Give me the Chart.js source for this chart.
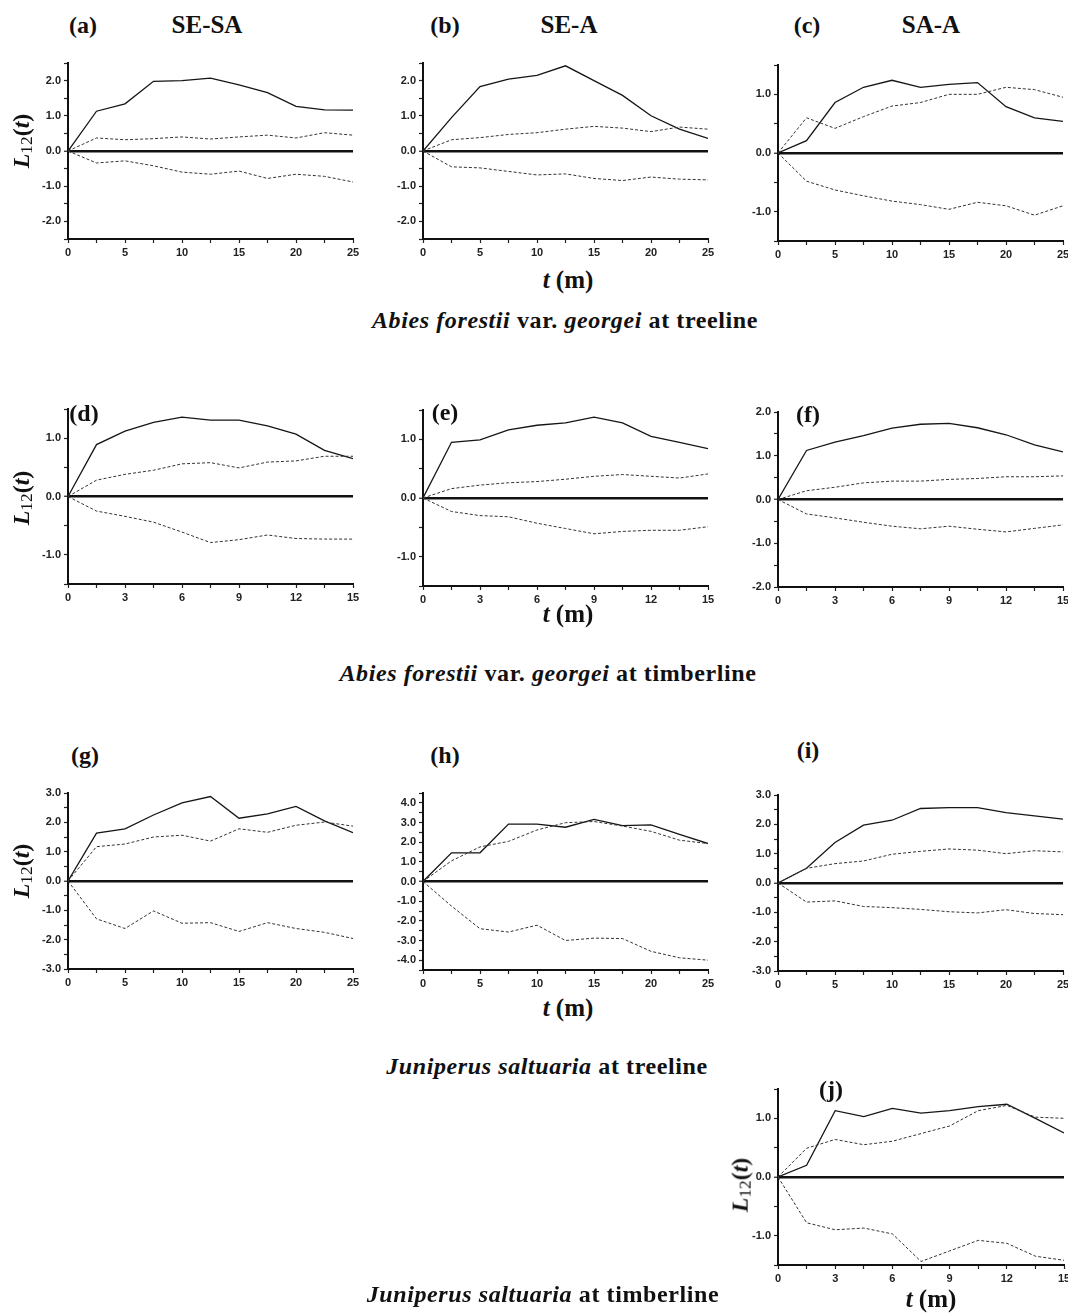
<!DOCTYPE html>
<html>
<head>
<meta charset="utf-8">
<script src="https://cdn.jsdelivr.net/npm/chart.js@4.4.1/dist/chart.umd.min.js"></script>
<style>
html, body { margin: 0; padding: 0; background: #fff; }
body { width: 1068px; height: 1316px; position: relative; overflow: hidden; }
canvas { position: absolute; }
.txt { position: absolute; white-space: nowrap; line-height: 1; font-family: 'Liberation Serif', 'Times New Roman', serif; font-weight: bold; color: #111; }
.c { transform: translateX(-50%); }
.ylab { transform: translate(-50%, -50%) rotate(-90deg); font-size: 24px; }
.ylab sub { font-weight: normal; font-size: 0.72em; vertical-align: -0.2em; }
.let { font-size: 24px; }
.hd { font-size: 25px; }
.tm { font-size: 25px; }
.cap { font-size: 24px; letter-spacing: 0.6px; }
</style>
</head>
<body>

<!-- panel headings -->
<div class="txt let c" style="left:83px;top:13px">(a)</div>
<div class="txt hd c" style="left:207px;top:12px">SE-SA</div>
<div class="txt let c" style="left:445px;top:13px">(b)</div>
<div class="txt hd c" style="left:569px;top:12px">SE-A</div>
<div class="txt let c" style="left:807px;top:13px">(c)</div>
<div class="txt hd c" style="left:931px;top:12px">SA-A</div>

<div class="txt let c" style="left:84px;top:401px">(d)</div>
<div class="txt let c" style="left:445px;top:400px">(e)</div>
<div class="txt let c" style="left:808px;top:402px">(f)</div>
<div class="txt let c" style="left:85px;top:743px">(g)</div>
<div class="txt let c" style="left:445px;top:743px">(h)</div>
<div class="txt let c" style="left:808px;top:738px">(i)</div>
<div class="txt let c" style="left:831px;top:1077px">(j)</div>

<div class="txt tm c" style="left:568px;top:267px"><i>t</i> (m)</div>
<div class="txt cap c" style="left:565px;top:308px"><i>Abies forestii</i> var. <i>georgei</i> at treeline</div>

<div class="txt tm c" style="left:568px;top:601px"><i>t</i> (m)</div>
<div class="txt cap c" style="left:548px;top:661px"><i>Abies forestii</i> var. <i>georgei</i> at timberline</div>

<div class="txt tm c" style="left:568px;top:995px"><i>t</i> (m)</div>
<div class="txt cap c" style="left:547px;top:1054px"><i>Juniperus saltuaria</i> at treeline</div>

<div class="txt tm c" style="left:931px;top:1286px"><i>t</i> (m)</div>
<div class="txt cap c" style="left:543px;top:1282px"><i>Juniperus saltuaria</i> at timberline</div>

<div class="txt ylab" style="left:22px;top:141px"><i>L</i><sub>12</sub>(<i>t</i>)</div>
<div class="txt ylab" style="left:22px;top:498px"><i>L</i><sub>12</sub>(<i>t</i>)</div>
<div class="txt ylab" style="left:22px;top:871px"><i>L</i><sub>12</sub>(<i>t</i>)</div>
<div class="txt ylab" style="left:741px;top:1185px"><i>L</i><sub>12</sub>(<i>t</i>)</div>

<script>
// distances t (m)
const t25 = [0, 2.5, 5, 7.5, 10, 12.5, 15, 17.5, 20, 22.5, 25];
const t15 = [0, 1.5, 3, 4.5, 6, 7.5, 9, 10.5, 12, 13.5, 15];

// (a) SE-SA treeline
const aObs = [0, 1.13, 1.34, 1.98, 2.0, 2.07, 1.88, 1.66, 1.27, 1.17, 1.16];
const aUp  = [0, 0.37, 0.32, 0.35, 0.4, 0.34, 0.4, 0.45, 0.37, 0.52, 0.45];
const aLo  = [0, -0.34, -0.28, -0.42, -0.6, -0.66, -0.57, -0.78, -0.66, -0.72, -0.88];
// (b) SE-A treeline
const bObs = [0, 0.95, 1.83, 2.04, 2.15, 2.42, 2.0, 1.58, 1.0, 0.62, 0.36];
const bUp  = [0, 0.32, 0.38, 0.47, 0.52, 0.62, 0.7, 0.65, 0.55, 0.68, 0.62];
const bLo  = [0, -0.45, -0.48, -0.58, -0.68, -0.65, -0.78, -0.84, -0.74, -0.8, -0.82];
// (c) SA-A treeline
const cObs = [0, 0.21, 0.86, 1.12, 1.24, 1.12, 1.17, 1.2, 0.79, 0.6, 0.54];
const cUp  = [0, 0.6, 0.42, 0.62, 0.8, 0.86, 1.0, 1.0, 1.12, 1.08, 0.95];
const cLo  = [0, -0.48, -0.63, -0.73, -0.82, -0.88, -0.96, -0.84, -0.9, -1.06, -0.9];
// (d) timberline
const dObs = [0, 0.89, 1.12, 1.27, 1.36, 1.31, 1.31, 1.21, 1.07, 0.79, 0.65];
const dUp  = [0, 0.28, 0.38, 0.45, 0.56, 0.58, 0.49, 0.59, 0.61, 0.69, 0.69];
const dLo  = [0, -0.25, -0.34, -0.44, -0.61, -0.79, -0.74, -0.66, -0.72, -0.73, -0.73];
// (e)
const eObs = [0, 0.95, 0.99, 1.16, 1.24, 1.28, 1.38, 1.28, 1.05, 0.95, 0.84];
const eUp  = [0, 0.16, 0.22, 0.26, 0.28, 0.32, 0.37, 0.4, 0.37, 0.34, 0.41];
const eLo  = [0, -0.23, -0.3, -0.32, -0.43, -0.52, -0.61, -0.57, -0.55, -0.55, -0.49];
// (f)
const fObs = [0, 1.12, 1.31, 1.46, 1.63, 1.72, 1.74, 1.64, 1.48, 1.25, 1.09];
const fUp  = [0, 0.2, 0.28, 0.38, 0.42, 0.42, 0.46, 0.48, 0.52, 0.52, 0.54];
const fLo  = [0, -0.33, -0.42, -0.52, -0.61, -0.67, -0.61, -0.68, -0.74, -0.66, -0.58];
// (g) Juniperus treeline
const gObs = [0, 1.63, 1.78, 2.25, 2.66, 2.88, 2.14, 2.29, 2.54, 2.05, 1.65];
const gUp  = [0, 1.17, 1.26, 1.5, 1.56, 1.36, 1.78, 1.66, 1.9, 2.01, 1.87];
const gLo  = [0, -1.29, -1.62, -1.02, -1.44, -1.42, -1.72, -1.42, -1.62, -1.75, -1.96];
// (h)
const hObs = [0, 1.46, 1.46, 2.92, 2.92, 2.76, 3.16, 2.84, 2.88, 2.4, 1.93];
const hUp  = [0, 1.05, 1.76, 2.04, 2.62, 2.99, 3.05, 2.82, 2.55, 2.1, 1.93];
const hLo  = [0, -1.25, -2.4, -2.57, -2.22, -3.0, -2.88, -2.9, -3.55, -3.88, -4.0];
// (i)
const iObs = [0, 0.5, 1.38, 1.97, 2.14, 2.54, 2.57, 2.57, 2.4, 2.29, 2.18];
const iUp  = [0, 0.5, 0.66, 0.75, 0.98, 1.08, 1.16, 1.12, 1.0, 1.1, 1.06];
const iLo  = [0, -0.65, -0.61, -0.8, -0.84, -0.9, -0.98, -1.02, -0.91, -1.04, -1.08];
// (j) Juniperus timberline
const jObs = [0, 0.2, 1.13, 1.03, 1.17, 1.09, 1.13, 1.2, 1.24, 1.0, 0.75];
const jUp  = [0, 0.49, 0.64, 0.55, 0.61, 0.74, 0.87, 1.13, 1.22, 1.02, 1.0];
const jLo  = [0, -0.78, -0.9, -0.87, -0.97, -1.44, -1.26, -1.08, -1.13, -1.35, -1.42];

// plot area in page pixels + axis ranges
const panels = [
  {l: 68,  t: 63,   r: 353,  b: 239,  ymin: -2.5, ymax: 2.5, ts: t25, obs: aObs, up: aUp, lo: aLo},
  {l: 423, t: 63,   r: 708,  b: 239,  ymin: -2.5, ymax: 2.5, ts: t25, obs: bObs, up: bUp, lo: bLo},
  {l: 778, t: 65,   r: 1063, b: 241,  ymin: -1.5, ymax: 1.5, ts: t25, obs: cObs, up: cUp, lo: cLo},
  {l: 68,  t: 409,  r: 353,  b: 584,  ymin: -1.5, ymax: 1.5, ts: t15, obs: dObs, up: dUp, lo: dLo},
  {l: 423, t: 410,  r: 708,  b: 586,  ymin: -1.5, ymax: 1.5, ts: t15, obs: eObs, up: eUp, lo: eLo},
  {l: 778, t: 412,  r: 1063, b: 587,  ymin: -2,   ymax: 2,   ts: t15, obs: fObs, up: fUp, lo: fLo},
  {l: 68,  t: 793,  r: 353,  b: 969,  ymin: -3,   ymax: 3,   ts: t25, obs: gObs, up: gUp, lo: gLo},
  {l: 423, t: 793,  r: 708,  b: 970,  ymin: -4.5, ymax: 4.5, ts: t25, obs: hObs, up: hUp, lo: hLo},
  {l: 778, t: 795,  r: 1063, b: 971,  ymin: -3,   ymax: 3,   ts: t25, obs: iObs, up: iUp, lo: iLo},
  {l: 778, t: 1089, r: 1064, b: 1265, ymin: -1.5, ymax: 1.5, ts: t15, obs: jObs, up: jUp, lo: jLo}
];

const tickFont = {family: "'Liberation Sans','Arial',sans-serif", size: 11, weight: 'bold'};

function pts(ts, ys) {
  return ts.map((t, i) => ({x: t, y: ys[i]}));
}

function makePanel(p) {
  const padL = 50, padT = 10, padR = 14, padB = 24;
  const w = p.r - p.l + padL + padR;
  const h = p.b - p.t + padT + padB;
  const cv = document.createElement('canvas');
  cv.width = w; cv.height = h;
  cv.style.width = w + 'px'; cv.style.height = h + 'px';
  cv.style.left = (p.l - padL) + 'px';
  cv.style.top = (p.t - padT) + 'px';
  document.body.insertBefore(cv, document.body.firstChild);

  const xmax = p.ts[p.ts.length - 1];
  const xstep = p.ts[1];
  const xlab = xstep * 2;

  new Chart(cv.getContext('2d'), {
    type: 'line',
    data: {
      datasets: [{
        data: pts(p.ts, p.up),
        borderColor: '#333', borderWidth: 1, borderDash: [3, 2]
      }, {
        data: pts(p.ts, p.lo),
        borderColor: '#333', borderWidth: 1, borderDash: [3, 2]
      }, {
        data: pts(p.ts, p.obs),
        borderColor: '#151515', borderWidth: 1.3
      }]
    },
    options: {
      responsive: false,
      animation: false,
      devicePixelRatio: 1,
      layout: {padding: {left: 0, top: padT, right: padR, bottom: 0}},
      elements: {point: {radius: 0}, line: {tension: 0, fill: false}},
      plugins: {legend: {display: false}, tooltip: {enabled: false}},
      scales: {
        x: {
          type: 'linear', min: 0, max: xmax,
          border: {display: true, color: '#111', width: 2},
          grid: {drawOnChartArea: false, tickColor: '#222', tickLength: 4, tickWidth: 1.2},
          ticks: {
            stepSize: xstep, autoSkip: false, maxRotation: 0, padding: 3,
            color: '#222', font: tickFont,
            callback: v => (v % xlab === 0 ? String(v) : '')
          },
          afterFit: s => { s.height = padB; }
        },
        y: {
          min: p.ymin, max: p.ymax,
          border: {display: true, color: '#111', width: 2},
          grid: {
            color: c => (c.tick && c.tick.value === 0 ? '#111' : 'rgba(0,0,0,0)'),
            lineWidth: c => (c.tick && c.tick.value === 0 ? 2.5 : 1),
            tickColor: '#222', tickLength: 4, tickWidth: 1.2
          },
          ticks: {
            stepSize: 0.5, maxTicksLimit: 50, autoSkip: false, padding: 3,
            color: '#222', font: tickFont,
            callback: v => (Number.isInteger(v) ? v.toFixed(1) : '')
          },
          afterFit: s => { s.width = padL; }
        }
      }
    }
  });
}

panels.forEach(makePanel);
</script>
</body>
</html>
